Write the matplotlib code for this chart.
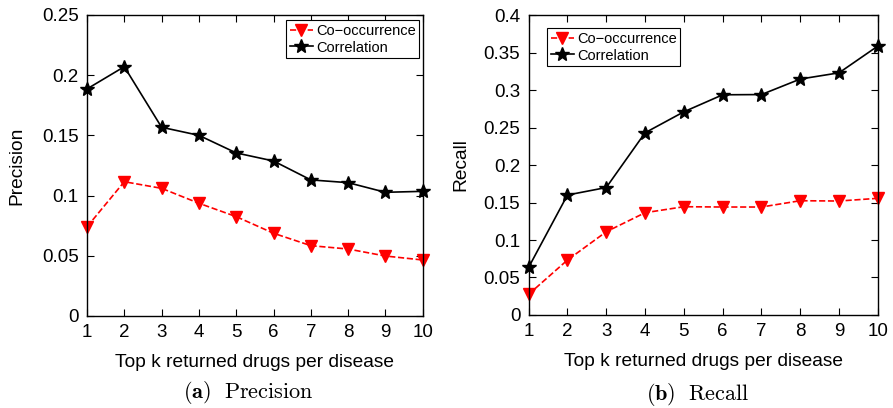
import matplotlib
matplotlib.use('Agg')
import matplotlib.pyplot as plt
from matplotlib.ticker import FuncFormatter

plt.rcParams['font.family'] = ['Liberation Sans', 'DejaVu Sans']
plt.rcParams['mathtext.fontset'] = 'cm'

# Top k values
k = [1, 2, 3, 4, 5, 6, 7, 8, 9, 10]

# Precision
prec_cooc = [0.074, 0.1115, 0.106, 0.0936, 0.0825, 0.0687, 0.0584, 0.0556, 0.0498, 0.0465]
prec_corr = [0.1885, 0.207, 0.1567, 0.150, 0.1354, 0.1287, 0.113, 0.1107, 0.1027, 0.1035]

# Recall
rec_cooc = [0.0276, 0.0733, 0.111, 0.1364, 0.1444, 0.144, 0.144, 0.1524, 0.152, 0.1556]
rec_corr = [0.0636, 0.160, 0.170, 0.243, 0.271, 0.2937, 0.294, 0.3147, 0.323, 0.3587]

labels = ['Co\u2212occurrence', 'Correlation']
fmt = FuncFormatter(lambda v, p: '%g' % round(v, 4))

fig = plt.figure(figsize=(8.93, 4.08), dpi=100)
ax1 = fig.add_axes([0.0974, 0.2255, 0.376, 0.738])
ax2 = fig.add_axes([0.592, 0.228, 0.391, 0.735])


def draw(ax, cooc, corr, ylim, yticks, ylabel, legend_loc, bbox, ylabelpad):
    ax.plot(k, cooc, '--', color='red', marker='v', markersize=9, lw=1.2,
            markerfacecolor='red', markeredgecolor='red', label=labels[0], clip_on=False)
    ax.plot(k, corr, '-', color='black', marker='*', markersize=10, lw=1.2,
            label=labels[1], clip_on=False)
    ax.set_xlim(1, 10)
    ax.set_ylim(*ylim)
    ax.set_xticks(k)
    ax.set_yticks(yticks)
    ax.yaxis.set_major_formatter(fmt)
    ax.tick_params(direction='in', top=True, right=True, labelsize=13.5, length=5, pad=6)
    ax.set_xlabel('Top k returned drugs per disease', fontsize=13.8, labelpad=9)
    ax.set_ylabel(ylabel, fontsize=13.8, labelpad=ylabelpad)
    for s in ax.spines.values():
        s.set_linewidth(1.0)
    leg = ax.legend(loc=legend_loc, bbox_to_anchor=bbox, fontsize=10.5, fancybox=False,
                    edgecolor='black', framealpha=1, handlelength=1.6, handletextpad=0.2,
                    borderpad=0.25, labelspacing=0.2, borderaxespad=0)
    leg.get_frame().set_linewidth(0.8)


draw(ax1, prec_cooc, prec_corr, (0, 0.25), [0, 0.05, 0.1, 0.15, 0.2, 0.25],
     'Precision', 'upper right', (0.99, 0.983), 12)
draw(ax2, rec_cooc, rec_corr, (0, 0.4), [0, 0.05, 0.1, 0.15, 0.2, 0.25, 0.3, 0.35, 0.4],
     'Recall', 'upper left', (0.053, 0.957), 10)

fig.text(0.278, 0.025, r'$\mathbf{(a)}\ \ \mathrm{Precision}$', ha='center', fontsize=16)
fig.text(0.781, 0.02, r'$\mathbf{(b)}\ \ \mathrm{Recall}$', ha='center', fontsize=16)

fig.savefig('out.png', dpi=100)
